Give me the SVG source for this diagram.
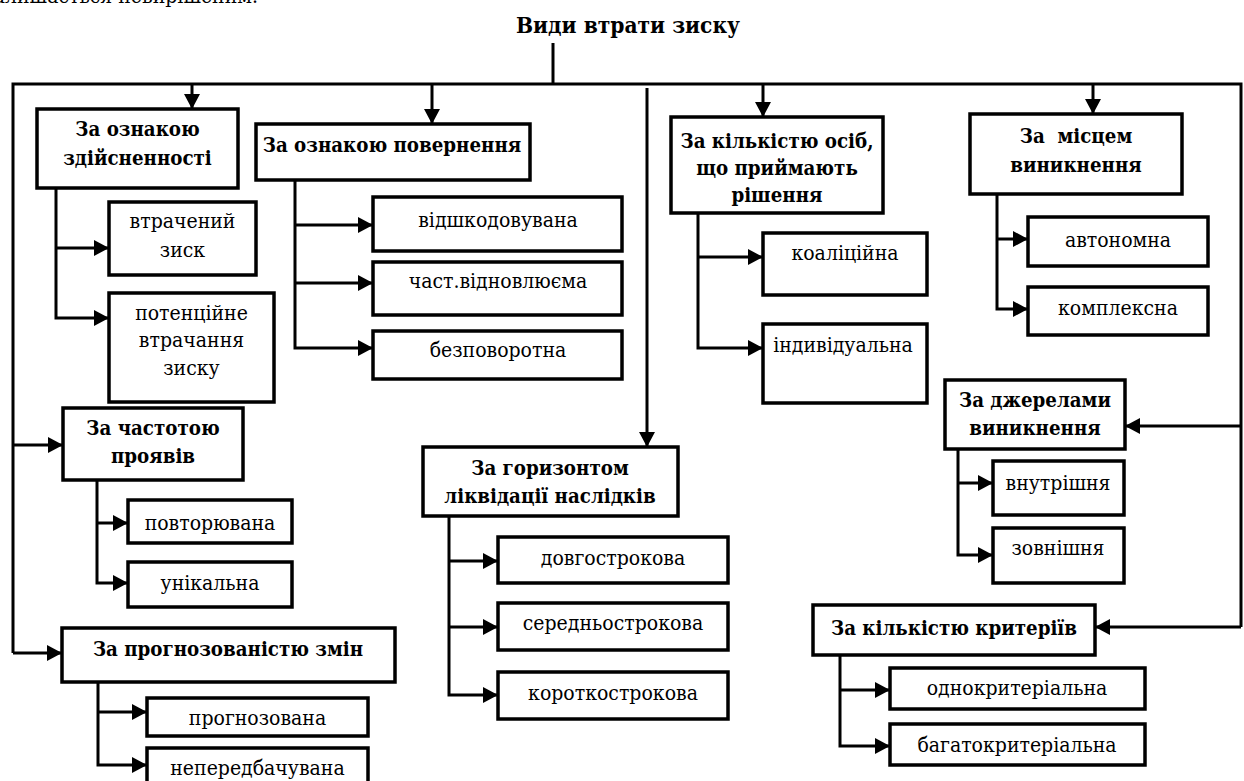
<svg xmlns="http://www.w3.org/2000/svg" width="1244" height="781" viewBox="0 0 1244 781">
<style>
  .box { fill: #fff; stroke: #000; stroke-width: 3.5; }
  .ln { fill: none; stroke: #000; stroke-width: 3; }
  .arr { marker-end: url(#ah); }
  text { font-family: "DejaVu Serif", serif; font-stretch: condensed; fill: #000; text-anchor: middle; }
  .b { font-weight: bold; font-size: 20.3px; }
  .n { font-size: 21px; }
  .t { font-weight: bold; font-size: 22.5px; }
</style>
<defs>
  <marker id="ah" markerUnits="userSpaceOnUse" markerWidth="15" markerHeight="16" viewBox="0 0 15 16" refX="15" refY="8" orient="auto">
    <path d="M0,0 L15,8 L0,16 z" fill="#000"/>
  </marker>
</defs>
<rect width="1244" height="781" fill="#fff"/>
<text class="n" x="258" y="3" style="text-anchor:end">залишається невирішеним.</text>
<g id="title"><text class="t" x="628" y="33">Види втрати зиску</text></g>

<g id="connectors">
  <path class="ln" d="M553,43 V84"/>
  <path class="ln" d="M13,653 V84 H1241 V627"/>
  <path class="ln arr" d="M192,84 V109"/>
  <path class="ln arr" d="M432,84 V124"/>
  <path class="ln arr" d="M647,88 V447"/>
  <path class="ln arr" d="M763,84 V117"/>
  <path class="ln arr" d="M1093,84 V114"/>
  <path class="ln arr" d="M13,445 H63"/>
  <path class="ln arr" d="M13,653 H62"/>
  <path class="ln arr" d="M1241,426 H1125"/>
  <path class="ln arr" d="M1241,627 H1095"/>
  <path class="ln arr" d="M56,188 V318 H109"/>
  <path class="ln arr" d="M56,248 H109"/>
  <path class="ln arr" d="M295,180 V348 H373"/>
  <path class="ln arr" d="M295,225 H373"/>
  <path class="ln arr" d="M295,283 H373"/>
  <path class="ln arr" d="M698,213 V348 H763"/>
  <path class="ln arr" d="M698,257 H763"/>
  <path class="ln arr" d="M997,194 V309 H1028"/>
  <path class="ln arr" d="M997,239 H1028"/>
  <path class="ln arr" d="M958,449 V555 H993"/>
  <path class="ln arr" d="M958,483 H993"/>
  <path class="ln arr" d="M840,655 V746 H890"/>
  <path class="ln arr" d="M840,690 H890"/>
  <path class="ln arr" d="M97,480 V583 H128"/>
  <path class="ln arr" d="M97,523 H128"/>
  <path class="ln arr" d="M98,682 V765 H147"/>
  <path class="ln arr" d="M98,712 H147"/>
  <path class="ln arr" d="M449,516 V695 H498"/>
  <path class="ln arr" d="M449,561 H498"/>
  <path class="ln arr" d="M449,627 H498"/>
</g>

<g id="n-zdiisnennist"><rect class="box" x="37" y="109" width="201" height="79"/>
  <text class="b" x="137.5" y="136">За ознакою</text><text class="b" x="137.5" y="165">здійсненності</text></g>
<g id="n-vtrachenyi"><rect class="box" x="109" y="202" width="147" height="73"/>
  <text class="n" x="182.5" y="228">втрачений</text><text class="n" x="182.5" y="257">зиск</text></g>
<g id="n-potentsiine"><rect class="box" x="109" y="293" width="165" height="109"/>
  <text class="n" x="191.5" y="320">потенційне</text><text class="n" x="191.5" y="347">втрачання</text><text class="n" x="191.5" y="375">зиску</text></g>
<g id="n-chastota"><rect class="box" x="63" y="408" width="180" height="72"/>
  <text class="b" x="153" y="435">За частотою</text><text class="b" x="153" y="463">проявів</text></g>
<g id="n-povtoriuvana"><rect class="box" x="128" y="500" width="164" height="43"/>
  <text class="n" x="210" y="530">повторювана</text></g>
<g id="n-unikalna"><rect class="box" x="128" y="562" width="164" height="45"/>
  <text class="n" x="210" y="590">унікальна</text></g>
<g id="n-prohnoz"><rect class="box" x="62" y="628" width="333" height="54"/>
  <text class="b" x="228" y="656">За прогнозованістю змін</text></g>
<g id="n-prohnozovana"><rect class="box" x="147" y="698" width="221" height="38"/>
  <text class="n" x="257.5" y="725">прогнозована</text></g>
<g id="n-neperedbachuvana"><rect class="box" x="147" y="748" width="221" height="45"/>
  <text class="n" x="257.5" y="775">непередбачувана</text></g>

<g id="n-povernennia"><rect class="box" x="256" y="124" width="274" height="56"/>
  <text class="b" x="392" y="152">За ознакою повернення</text></g>
<g id="n-vidshkod"><rect class="box" x="373" y="197" width="249" height="54"/>
  <text class="n" x="498" y="227">відшкодовувана</text></g>
<g id="n-chast"><rect class="box" x="373" y="262" width="249" height="53"/>
  <text class="n" x="498" y="288">част.відновлюєма</text></g>
<g id="n-bezpovorotna"><rect class="box" x="373" y="331" width="249" height="48"/>
  <text class="n" x="498" y="357">безповоротна</text></g>

<g id="n-horyzont"><rect class="box" x="423" y="447" width="255" height="69"/>
  <text class="b" x="550" y="475">За горизонтом</text><text class="b" x="550" y="503">ліквідації наслідків</text></g>
<g id="n-dovho"><rect class="box" x="498" y="537" width="230" height="46"/>
  <text class="n" x="613" y="565">довгострокова</text></g>
<g id="n-seredno"><rect class="box" x="498" y="603" width="230" height="47"/>
  <text class="n" x="613" y="630">середньострокова</text></g>
<g id="n-korotko"><rect class="box" x="498" y="672" width="230" height="47"/>
  <text class="n" x="613" y="700">короткострокова</text></g>

<g id="n-osib"><rect class="box" x="671" y="117" width="212" height="96"/>
  <text class="b" x="777" y="148">За кількістю осіб,</text><text class="b" x="777" y="175">що приймають</text><text class="b" x="777" y="202">рішення</text></g>
<g id="n-koalitsiina"><rect class="box" x="763" y="233" width="164" height="62"/>
  <text class="n" x="845" y="260">коаліційна</text></g>
<g id="n-indyvidualna"><rect class="box" x="763" y="324" width="164" height="79"/>
  <text class="n" x="843" y="352">індивідуальна</text></g>

<g id="n-mistse"><rect class="box" x="970" y="114" width="212" height="80"/>
  <text class="b" x="1076" y="143" xml:space="preserve">За  місцем</text><text class="b" x="1076" y="172">виникнення</text></g>
<g id="n-avtonomna"><rect class="box" x="1028" y="217" width="180" height="49"/>
  <text class="n" x="1118" y="247">автономна</text></g>
<g id="n-kompleksna"><rect class="box" x="1028" y="287" width="180" height="48"/>
  <text class="n" x="1118" y="315">комплексна</text></g>

<g id="n-dzherela"><rect class="box" x="945" y="380" width="180" height="69"/>
  <text class="b" x="1035" y="407">За джерелами</text><text class="b" x="1035" y="435">виникнення</text></g>
<g id="n-vnutrishnia"><rect class="box" x="993" y="461" width="131" height="54"/>
  <text class="n" x="1058" y="490">внутрішня</text></g>
<g id="n-zovnishnia"><rect class="box" x="993" y="528" width="131" height="55"/>
  <text class="n" x="1058" y="555">зовнішня</text></g>

<g id="n-kryterii"><rect class="box" x="813" y="605" width="282" height="50"/>
  <text class="b" x="954" y="635">За кількістю критеріїв</text></g>
<g id="n-odnokryt"><rect class="box" x="890" y="668" width="255" height="41"/>
  <text class="n" x="1017" y="695">однокритеріальна</text></g>
<g id="n-bahatokryt"><rect class="box" x="890" y="724" width="255" height="41"/>
  <text class="n" x="1017" y="752">багатокритеріальна</text></g>
</svg>
